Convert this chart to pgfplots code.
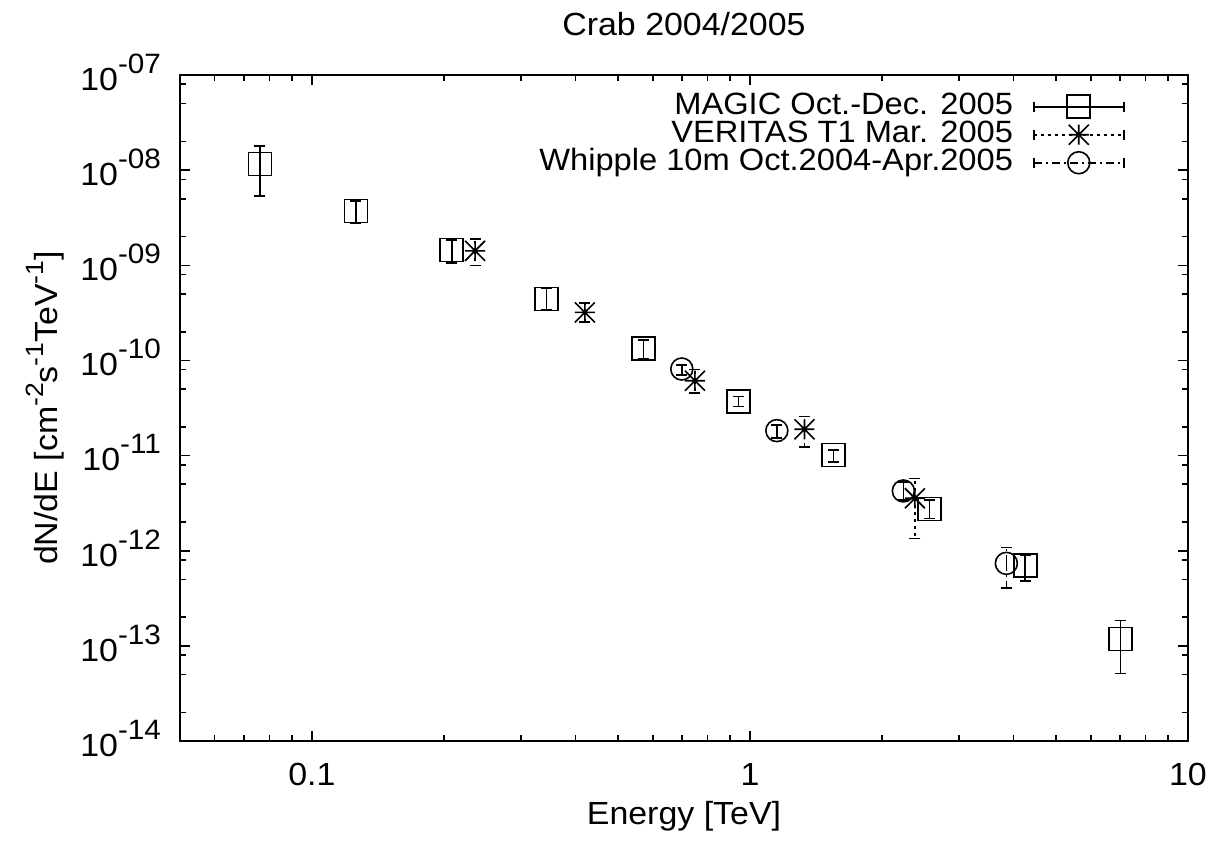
\documentclass[border=0pt]{standalone}
\usepackage{pgfplots}
\pgfplotsset{compat=1.18}
\usepackage{pgfplotstable}
\usepackage{fontspec}
\setmainfont{Liberation Sans}[FakeStretch=1.06]
\pgfdeclareplotmark{ast8}{%
  \pgfpathmoveto{\pgfqpoint{-\pgfplotmarksize}{0pt}}%
  \pgfpathlineto{\pgfqpoint{\pgfplotmarksize}{0pt}}%
  \pgfpathmoveto{\pgfqpoint{0pt}{-\pgfplotmarksize}}%
  \pgfpathlineto{\pgfqpoint{0pt}{\pgfplotmarksize}}%
  \pgfpathmoveto{\pgfqpoint{-\pgfplotmarksize}{-\pgfplotmarksize}}%
  \pgfpathlineto{\pgfqpoint{\pgfplotmarksize}{\pgfplotmarksize}}%
  \pgfpathmoveto{\pgfqpoint{-\pgfplotmarksize}{\pgfplotmarksize}}%
  \pgfpathlineto{\pgfqpoint{\pgfplotmarksize}{-\pgfplotmarksize}}%
  \pgfusepathqstroke}

\pgfplotstableread{
x y ep em
0.0761 1.16e-8 0.63e-8 0.622e-8
0.126 3.72e-9 1.02e-9 0.96e-9
0.2086 1.45e-9 0.39e-9 0.40e-9
0.3436 4.42e-10 1.31e-10 1.03e-10
0.571 1.34e-10 0.30e-10 0.29e-10
0.941 3.68e-11 0.49e-11 0.41e-11
1.551 1.01e-11 0.14e-11 0.15e-11
2.57 2.74e-12 0.67e-12 0.55e-12
4.25 6.96e-13 2.0e-13 2.16e-13
7.01 1.18e-13 0.66e-13 0.666e-13
}\magic

\pgfplotstableread{
x y ep em
0.2358 1.42e-9 0.47e-9 0.42e-9
0.42 3.2e-10 0.8e-10 0.65e-10
0.749 6.12e-11 1.93e-11 1.54e-11
1.332 1.89e-11 0.68e-11 0.65e-11
2.38 3.56e-12 2.21e-12 2.21e-12
}\veritas

\pgfplotstableread{
x y ep em
0.699 8.13e-11 0.82e-11 1.1e-11
1.152 1.83e-11 0.26e-11 0.31e-11
2.24 4.25e-12 1.05e-12 0.84e-12
3.85 7.37e-13 3.43e-13 3.29e-13
}\whipple

\newcommand{\f}{\fontsize{16}{19}\selectfont}
\newcommand{\lf}{\fontsize{15.4}{17}\selectfont}
\newcommand{\sups}[1]{\raisebox{8.5pt}{\fontsize{14}{14}\selectfont #1}}
\newcommand{\ysup}[1]{\raisebox{7pt}{\fontsize{12.5}{13}\selectfont #1}}

\begin{document}
\begin{tikzpicture}
\path[use as bounding box] (-90pt,-53.5pt) rectangle (521pt,370.5pt);
\begin{axis}[
  at={(0pt,0pt)}, anchor=south west,
  scale only axis, width=504pt, height=333pt,
  xmode=log, ymode=log,
  xmin=0.05, xmax=10, ymin=1e-14, ymax=1e-7,
  xtick={0.1,1,10}, xticklabels={0.1,1,10},
  minor xtick={0.06,0.07,0.08,0.09,0.2,0.3,0.4,0.5,0.6,0.7,0.8,0.9,2,3,4,5,6,7,8,9},
  ytick={1e-14,1e-13,1e-12,1e-11,1e-10,1e-9,1e-8,1e-7},
  yticklabels={10\sups{-14},10\sups{-13},10\sups{-12},10\sups{-11},10\sups{-10},10\sups{-09},10\sups{-08},10\sups{-07}},
  minor ytick={2e-14,5e-14,8e-14,2e-13,5e-13,8e-13,2e-12,5e-12,8e-12,2e-11,5e-11,8e-11,2e-10,5e-10,8e-10,2e-9,5e-9,8e-9,2e-8,5e-8,8e-8},
  major tick length=5pt, minor tick length=2.8pt,
  tick style={black, line width=0.8pt},
  axis line style={line width=1pt},
  tick label style={font=\f},
  xticklabel style={anchor=center, yshift=-16.5pt},
  yticklabel style={anchor=base east, yshift=-7.7pt, xshift=-6pt},
  xlabel={Energy [TeV]},
  ylabel={dN/dE [cm\ysup{-2}s\ysup{-1}TeV\ysup{-1}]},
  every axis x label/.style={at={(axis description cs:0.5,-0.1126)}, anchor=center, font=\f},
  every axis y label/.style={at={(axis description cs:-0.134,0.5)}, anchor=center, rotate=90, font=\f},
  title={Crab 2004/2005},
  every axis title/.style={at={(axis description cs:0.5,1.077)}, anchor=center, font=\f},
  legend style={at={(axis description cs:0.9375,0.974)}, anchor=north east, draw=none, fill=none, inner sep=0pt, font=\lf, column sep=10pt, row sep=0pt,
    nodes={inner sep=0pt, text height=11pt, text depth=3pt}},
  legend cell align=right,
  legend plot pos=right,
  legend image code/.code={
    \draw[#1, mark=none] (0pt,0pt) -- (45pt,0pt);
    \draw[#1, mark=none, solid] (0pt,-2.5pt) -- (0pt,2.5pt) (45pt,-2.5pt) -- (45pt,2.5pt);
    \draw[#1, only marks] plot coordinates {(22.5pt,0pt)};
  },
]
\addplot[black, only marks, line width=0.8pt, solid, mark=square, mark size=5.75pt, mark options={solid},
  error bars/.cd, y dir=both, y explicit, error bar style={line width=0.8pt, solid},
  error mark options={rotate=90, mark size=2.75pt, line width=0.8pt}]
  table[x=x, y=y, y error plus=ep, y error minus=em]{\magic};
\addlegendentry{MAGIC Oct.-Dec. 2005}
\addplot[black, only marks, line width=0.8pt, dash pattern=on 1.5pt off 2pt, mark=ast8, mark size=5pt, mark options={solid},
  error bars/.cd, y dir=both, y explicit, error bar style={line width=0.8pt, dash pattern=on 1.5pt off 2pt},
  error mark options={rotate=90, mark size=2.75pt, line width=0.8pt}]
  table[x=x, y=y, y error plus=ep, y error minus=em]{\veritas};
\addlegendentry{VERITAS T1 Mar. 2005}
\addplot[black, only marks, line width=0.8pt, dash pattern=on 4pt off 2pt on 1pt off 2pt, mark=o, mark size=5.5pt, mark options={solid},
  error bars/.cd, y dir=both, y explicit, error bar style={line width=0.8pt, dash pattern=on 4pt off 2pt on 1pt off 2pt},
  error mark options={rotate=90, mark size=2.75pt, line width=0.8pt}]
  table[x=x, y=y, y error plus=ep, y error minus=em]{\whipple};
\addlegendentry{Whipple 10m Oct.2004-Apr.2005}
\end{axis}
\end{tikzpicture}
\end{document}
